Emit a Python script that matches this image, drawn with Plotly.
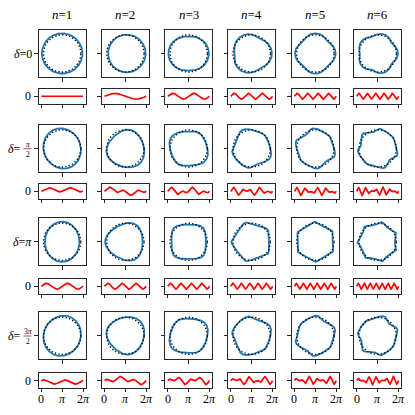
import numpy as np
import plotly.graph_objects as go

# panel parameters
N_VALUES = [1, 2, 3, 4, 5, 6]
DELTA_VALUES = [0.0, 0.5 * np.pi, np.pi, 1.5 * np.pi]
DELTA_NUM = ["0", "<i>π</i>", "<i>π</i>", "3<i>π</i>"]
DELTA_DEN = [None, "2", None, "2"]
EPS = 0.08  # displacement amplitude of the blue contour
STRIP_TICKS = [0, np.pi, 2 * np.pi]
STRIP_TICKTEXT = ["0", "<i>π</i>", "2<i>π</i>"]

# geometry, in pixels of the 415x415 window; the page body adds an 8px margin
OFF = 8
W = H = 415 - OFF
COL_LEFT = [38.5, 101.7, 165.0, 228.0, 291.7, 354.0]
COL_W = 47.3
SHAPE_TOP = [30.0, 125.0, 218.3, 312.3]
SHAPE_H = 47.0
STRIP_TOP = [89.0, 184.0, 279.0, 373.3]
STRIP_H = 14.5
R = 1.26

AX = "#262626"
SERIF = "Liberation Serif, Times New Roman, serif"


def fx(p):
    return (p - OFF) / W


def fy(p):
    return 1 - (p - OFF) / H


theta = np.linspace(0, 2 * np.pi, 600)
fig = go.Figure()
axes = {}
annotations = []
shapes = []
txt = dict(family=SERIF, size=13, color="black")

base = dict(showline=True, mirror=True, linecolor=AX, linewidth=1,
            showgrid=False, zeroline=False, ticks="outside", ticklen=3.5,
            tickwidth=1, tickcolor=AX, fixedrange=True, showticklabels=False)

k = 0
for i, d in enumerate(DELTA_VALUES):
    for j, n in enumerate(N_VALUES):
        # displacement u = (cos(n t + d), sin(n t)); red = tangential part
        u = np.cos(n * theta + d) + 1j * np.sin(n * theta)
        z = np.exp(1j * theta) + EPS * u
        tang = (u * np.exp(-1j * theta)).imag

        left = COL_LEFT[j]

        # shape panel
        k += 1
        xa, ya = f"x{k}", f"y{k}"
        axes[f"xaxis{k}"] = dict(base, domain=[fx(left), fx(left + COL_W)],
                                 range=[-R, R], tickvals=[0], anchor=ya)
        axes[f"yaxis{k}"] = dict(base, domain=[fy(SHAPE_TOP[i] + SHAPE_H), fy(SHAPE_TOP[i])],
                                 range=[-R, R], tickvals=[0], anchor=xa)
        fig.add_trace(go.Scatter(x=z.real, y=z.imag, mode="lines", xaxis=xa, yaxis=ya,
                                 line=dict(color="#1f77b4", width=1.8), hoverinfo="skip"))
        fig.add_trace(go.Scatter(x=np.cos(theta), y=np.sin(theta), mode="lines",
                                 xaxis=xa, yaxis=ya,
                                 line=dict(color="black", width=1.3, dash="1.3px,2.2px"),
                                 hoverinfo="skip"))

        # strip panel
        k += 1
        xa, ya = f"x{k}", f"y{k}"
        axes[f"xaxis{k}"] = dict(base, domain=[fx(left), fx(left + COL_W)],
                                 range=[-0.42, 2 * np.pi + 0.42],
                                 tickvals=STRIP_TICKS, anchor=ya)
        axes[f"yaxis{k}"] = dict(base, domain=[fy(STRIP_TOP[i] + STRIP_H), fy(STRIP_TOP[i])],
                                 range=[-2.5, 2.5], tickvals=[0], anchor=xa)
        fig.add_trace(go.Scatter(x=theta, y=tang, mode="lines", xaxis=xa, yaxis=ya,
                                 line=dict(color="red", width=1.7), hoverinfo="skip"))

        # tick labels placed next to the ticks
        if i == len(DELTA_VALUES) - 1:
            for tv, tt in zip(STRIP_TICKS, STRIP_TICKTEXT):
                annotations.append(dict(x=tv, xref=xa, y=fy(399), yref="paper",
                                        text=tt, showarrow=False, font=dict(txt, size=12),
                                        xanchor="center", yanchor="middle"))
        if j == 0:
            annotations.append(dict(x=fx(33), xref="paper", y=0, yref=ya,
                                    text="0", showarrow=False, font=dict(txt, size=12),
                                    xanchor="right", yanchor="middle"))

axes["xaxis"] = axes.pop("xaxis1")
axes["yaxis"] = axes.pop("yaxis1")

for j, n in enumerate(N_VALUES):
    annotations.append(dict(x=fx(COL_LEFT[j] + COL_W / 2), y=fy(14), xref="paper", yref="paper",
                            text=f"<i>n</i>={n}", showarrow=False, font=txt,
                            xanchor="center", yanchor="middle"))

for i in range(len(DELTA_VALUES)):
    cy = SHAPE_TOP[i] + SHAPE_H / 2
    if DELTA_DEN[i] is None:
        annotations.append(dict(x=fx(34), y=fy(cy), xref="paper", yref="paper",
                                text=f"<i>δ</i>={DELTA_NUM[i]}", showarrow=False,
                                font=dict(txt, size=12), xanchor="right", yanchor="middle"))
    else:
        cx = 27.5
        annotations.append(dict(x=fx(cx - 4.5), y=fy(cy), xref="paper", yref="paper",
                                text="<i>δ</i>=", showarrow=False,
                                font=dict(txt, size=12), xanchor="right", yanchor="middle"))
        annotations.append(dict(x=fx(cx), y=fy(cy + 0.5), xref="paper", yref="paper",
                                text=f"{DELTA_NUM[i]}<br>{DELTA_DEN[i]}", showarrow=False,
                                font=dict(txt, size=7.5), xanchor="center", yanchor="middle",
                                borderpad=0))
        shapes.append(dict(type="line", xref="paper", yref="paper",
                           x0=fx(cx - 4), x1=fx(cx + 4), y0=fy(cy + 0.2), y1=fy(cy + 0.2),
                           line=dict(color="black", width=0.6)))

fig.update_layout(width=W, height=H, margin=dict(l=0, r=0, t=0, b=0),
                  plot_bgcolor="white", paper_bgcolor="white", showlegend=False,
                  annotations=annotations, shapes=shapes, **axes)

fig.write_html("out.html")
